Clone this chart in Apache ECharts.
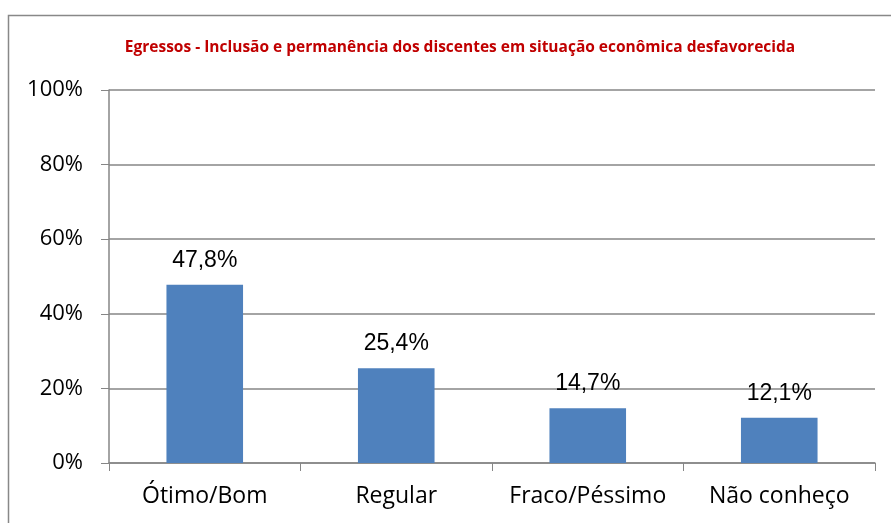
<!DOCTYPE html>
<html>
<head>
<meta charset="utf-8">
<script src="https://cdn.jsdelivr.net/npm/echarts@6/dist/echarts.min.js"></script>
<style>
html,body{margin:0;padding:0;background:#fff;}
#chart{width:891px;height:523px;}
</style>
</head>
<body>
<div id="chart"></div>
<script>
var categories = ['Ótimo/Bom', 'Regular', 'Fraco/Péssimo', 'Não conheço'];
var values = [47.8, 25.4, 14.7, 12.1];
var yTicks = [0, 20, 40, 60, 80, 100];

var chart = echarts.init(document.getElementById('chart'));
var option = {
	animation: false,
	title: {
		text: 'Egressos - Inclusão e permanência dos discentes em situação econômica desfavorecida',
		left: 455,
		top: 35,
		textAlign: 'center',
		textStyle: {
			color: '#C00000',
			fontSize: 15.5,
			fontWeight: 'bold',
			fontFamily: 'Open Sans'
		}
	},
	graphic: [{
		type: 'rect',
		shape: {x: 8.5, y: 15.5, width: 900, height: 520},
		style: {fill: 'none', stroke: '#888', lineWidth: 1.5},
		silent: true
	}],
	grid: {left: 109, right: 16, top: 90, bottom: 60, containLabel: false},
	xAxis: {
		type: 'category',
		data: categories,
		axisLine: {lineStyle: {color: '#868686', width: 1.5}},
		axisTick: {show: true, length: 8, lineStyle: {color: '#868686'}},
		axisLabel: {interval: 0, hideOverlap: false, color: '#000', fontSize: 23, fontFamily: 'Open Sans', margin: 22}
	},
	yAxis: {
		type: 'value',
		min: 0,
		max: 100,
		interval: 20,
		axisLine: {show: true, lineStyle: {color: '#868686', width: 1.5}},
		axisTick: {show: true, length: 8, inside: false, lineStyle: {color: '#868686'}},
		splitLine: {lineStyle: {color: '#868686', width: 1.5}},
		axisLabel: {
			color: '#000',
			fontSize: 22,
			fontFamily: 'Open Sans',
			margin: 26,
			formatter: function(v){ return yTicks.indexOf(v) >= 0 ? v + '%' : ''; }
		}
	},
	series: [{
		type: 'bar',
		data: values,
		barWidth: '40%',
		itemStyle: {color: '#4F81BD'},
		label: {
			show: true,
			position: 'top',
			distance: 13,
			color: '#000',
			fontSize: 23,
			fontFamily: 'Liberation Sans',
			formatter: function(p){ return p.value.toFixed(1).replace('.', ',') + '%'; }
		}
	}]
};
chart.setOption(option);
</script>
</body>
</html>
